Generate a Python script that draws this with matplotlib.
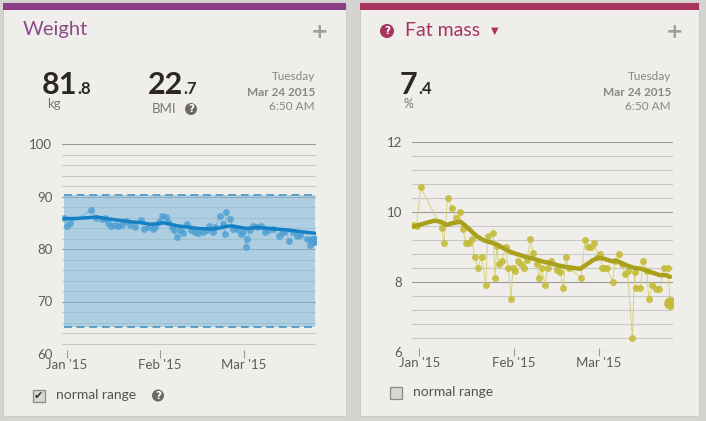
"""Withings-style dashboard cards: weight and fat mass over Jan-Mar 2015."""

import matplotlib

matplotlib.use("Agg")
import matplotlib.pyplot as plt
from matplotlib.patches import Rectangle, Circle

W, H = 706, 421

# chart chrome
OUTER = "#d6d4d0"
CARD = "#efeeeb"
PURPLE = "#8c3f86"
CRIMSON = "#a8335f"
INK = "#2a2724"
MUTED = "#8a8782"
TICK = "#5f5c58"
GRID_MAJOR = "#9d9b97"
GRID_MINOR = "#cbc9c5"
BLUE_DOT = "#4e9fd3"
BLUE_THIN = "#7cb7dc"
BLUE_TREND = "#1580c4"
BLUE_SHADE = "#80badb"
BLUE_DASH = "#5a9ec6"
OLIVE_DOT = "#c4bc3a"
OLIVE_THIN = "#d8d27c"
OLIVE_TREND = "#a9a11b"

# data: days since Jan 1 2015
TICK_DAYS = [0, 31, 59]
TICK_LABELS = ["Jan '15", "Feb '15", "Mar '15"]

WEIGHT_DAYS = [-0.8, 0.0, 1.1, 8.1, 9.8, 11.7, 12.8, 13.9, 14.7, 16.1, 17.2, 18.3,
               19.8, 21.1, 22.8, 24.7, 25.6, 27.2, 28.7, 29.4, 30.6, 31.7, 33.0,
               33.9, 35.0, 35.8, 36.7, 37.8, 38.9, 40.2, 41.3, 42.8, 43.9, 45.3,
               46.7, 47.5, 48.7, 49.4, 51.1, 52.0, 52.7, 53.1, 54.4, 55.5, 56.9,
               58.0, 58.9, 59.8, 60.2, 61.1, 62.2, 63.3, 64.7, 66.1, 67.2, 68.9,
               70.6, 71.7, 72.8, 74.2, 75.3, 76.7, 77.8, 80.0, 81.1, 81.7, 82.4, 82.8]
WEIGHT_KG = [86.0, 84.4, 85.0, 87.4, 86.0, 85.8, 86.0, 84.9, 84.3, 84.6, 84.3, 84.6,
             85.4, 84.6, 84.1, 85.5, 83.9, 84.2, 83.9, 84.1, 85.2, 86.3, 86.1,
             85.2, 84.1, 83.6, 82.2, 83.6, 83.0, 84.8, 83.6, 83.3, 83.0, 83.2,
             83.6, 84.3, 83.3, 84.1, 86.3, 84.8, 82.8, 87.0, 85.7, 83.9, 83.9,
             82.8, 83.3, 80.3, 82.0, 83.6, 84.3, 84.1, 84.3, 83.3, 83.6, 83.9,
             82.5, 83.0, 83.5, 81.6, 83.3, 82.5, 82.7, 82.0, 80.8, 82.0, 81.4, 81.8]
WEIGHT_TREND_DAYS = [-0.8, 3, 8, 10, 13, 17, 21, 25, 28, 30, 32, 34, 37, 40, 44, 48,
                     51, 53, 55, 58, 60, 63, 66, 70, 74, 78, 82.8]
WEIGHT_TREND_KG = [85.8, 85.8, 86.0, 86.1, 85.8, 85.5, 85.2, 85.0, 84.7, 84.8, 85.0,
                   84.8, 84.4, 84.2, 83.9, 83.8, 84.0, 84.3, 84.4, 84.1, 83.9, 84.1,
                   84.0, 83.8, 83.6, 83.3, 83.0]
NORMAL_RANGE = (65.1, 90.3)

FAT_DAYS = [-2.0, -0.9, 0.45, 7.4, 8.1, 9.3, 10.7, 12.0, 13.4, 14.3, 15.4, 16.3,
            17.2, 18.3, 19.2, 20.5, 21.9, 22.5, 24.3, 24.9, 25.5, 26.2, 27.1, 28.4,
            29.3, 30.2, 30.8, 31.5, 32.6, 33.5, 34.5, 35.5, 36.4, 37.5, 38.6, 39.4,
            40.2, 41.4, 42.2, 43.3, 45.2, 46.3, 47.4, 48.1, 49.2, 53.2, 54.5, 55.6,
            56.5, 57.6, 58.9, 59.6, 60.2, 60.9, 61.6, 63.6, 64.4, 65.7, 66.6, 67.7,
            68.5, 70.1, 70.8, 71.3, 72.7, 73.7, 74.8, 75.5, 76.7, 77.8, 78.9, 80.6,
            81.7, 82.5]
FAT_PCT = [9.63, 9.61, 10.70, 9.53, 9.11, 10.40, 10.10, 9.82, 10.00, 9.51, 9.11, 9.11,
           9.22, 8.72, 8.41, 8.72, 7.92, 9.30, 9.41, 8.13, 9.02, 8.51, 8.60, 9.01,
           8.41, 7.52, 8.39, 8.32, 8.60, 8.51, 8.41, 8.63, 9.22, 8.82, 8.51, 8.13,
           8.41, 7.92, 8.41, 8.60, 8.34, 8.30, 7.82, 8.72, 8.39, 8.13, 9.20, 9.01,
           9.01, 9.11, 8.72, 8.80, 8.41, 8.41, 8.41, 8.01, 8.60, 8.80, 8.51, 8.22,
           8.32, 6.42, 8.28, 7.82, 7.82, 8.60, 8.32, 7.52, 7.92, 7.80, 7.80, 8.41,
           8.41, 7.41]
FAT_TREND_DAYS = [-2, 2, 5, 7, 9, 11, 13.5, 15, 17, 19, 21.5, 24, 26, 28, 30, 32, 35,
                  37, 40, 43, 46, 49, 51, 53, 55, 57, 59, 61, 63, 65, 67, 69, 71, 73,
                  75, 77, 79, 81, 82.5]
FAT_TREND_PCT = [9.58, 9.68, 9.75, 9.72, 9.63, 9.68, 9.72, 9.62, 9.46, 9.30, 9.18,
                 9.12, 9.05, 8.95, 8.86, 8.80, 8.72, 8.68, 8.60, 8.54, 8.47, 8.42,
                 8.40, 8.38, 8.50, 8.62, 8.70, 8.66, 8.60, 8.60, 8.52, 8.45, 8.40,
                 8.38, 8.32, 8.26, 8.20, 8.20, 8.15]

plt.rcParams["font.family"] = ["Lato", "DejaVu Sans"]


def fx(x):
    return x / W


def fy(y):
    return 1 - y / H


def text(fig, x, y, s, **kw):
    kw.setdefault("va", "center")
    fig.text(fx(x), fy(y), s, **kw)


def help_icon(fig, x, y, color, r=6.5):
    fig.patches.append(Circle((x, H - y), r, transform=None, facecolor=color,
                              edgecolor="none"))
    fig.text(fx(x), fy(y + 0.3), "?", ha="center", va="center", color="white",
             fontsize=7.5, fontweight="bold", family="DejaVu Sans")


def checkbox(fig, x, y, checked):
    fig.patches.append(Rectangle((fx(x), fy(y + 11.5)), 11.5 / W, 11.5 / H,
                                 transform=fig.transFigure, facecolor="#d9d7d3",
                                 edgecolor="#8c8a86", linewidth=0.9))
    if checked:
        fig.text(fx(x + 5.8), fy(y + 6), "\u2714", ha="center", va="center",
                 color="#2f2d2a", fontsize=8, family="DejaVu Sans")


def card(fig, x0, x1, bar_color):
    fig.patches.append(Rectangle((fx(x0), fy(416)), (x1 - x0) / W, (416 - 3) / H,
                                 transform=fig.transFigure, facecolor=CARD,
                                 edgecolor="#c9c7c3", linewidth=0.6, zorder=-2))
    fig.patches.append(Rectangle((fx(x0), fy(9.5)), (x1 - x0) / W, 6 / H,
                                 transform=fig.transFigure, facecolor=bar_color,
                                 edgecolor="none", zorder=-1))


def style_axes(ax, major, minor, ylim, xlim):
    ax.set_facecolor("none")
    for side in ax.spines:
        ax.spines[side].set_visible(False)
    ax.set_xlim(*xlim)
    ax.set_ylim(*ylim)
    ax.set_yticks(major)
    ax.set_yticks(minor, minor=True)
    ax.yaxis.grid(True, which="major", color=GRID_MAJOR, linewidth=0.8)
    ax.yaxis.grid(True, which="minor", color=GRID_MINOR, linewidth=0.8)
    ax.set_axisbelow(True)
    ax.tick_params(axis="y", which="both", length=0, pad=7, labelsize=9.5,
                   labelcolor=TICK)
    ax.set_xticks(TICK_DAYS)
    ax.set_xticklabels(TICK_LABELS)
    ax.tick_params(axis="x", direction="inout", length=6, width=0.8, color=GRID_MAJOR,
                   pad=0.5, labelsize=9.5, labelcolor=TICK)


fig = plt.figure(figsize=(W / 100, H / 100), dpi=100)
fig.patch.set_facecolor(OUTER)
card(fig, 3, 346, PURPLE)
card(fig, 360, 699, CRIMSON)

# ---- weight card header
text(fig, 23, 30, "Weight", color="#8e4b8a", fontsize=14.5)
text(fig, 320, 32, "+", ha="center", color="#a19f9b", fontsize=15, fontweight="bold",
     family="DejaVu Sans")
text(fig, 42, 94, "81", va="baseline", color=INK, fontsize=22, fontweight="bold")
text(fig, 77, 94, ".8", va="baseline", color=INK, fontsize=12, fontweight="bold")
text(fig, 47, 104, "kg", color="#7a7772", fontsize=9.5)
text(fig, 148, 94, "22", va="baseline", color=INK, fontsize=22, fontweight="bold")
text(fig, 183.5, 94, ".7", va="baseline", color=INK, fontsize=12, fontweight="bold")
text(fig, 152, 109, "BMI", color="#7a7772", fontsize=9.5)
help_icon(fig, 191, 109, "#6c6964", r=6)
for x in (315, 671):
    text(fig, x, 77, "Tuesday", ha="right", color=MUTED, fontsize=8.5)
    text(fig, x, 92, "Mar 24 2015", ha="right", color=MUTED, fontsize=8.5,
         fontweight="bold")
    text(fig, x, 107, "6:50 AM", ha="right", color=MUTED, fontsize=8.5)

# ---- fat card header
help_icon(fig, 387, 31, CRIMSON, r=7)
text(fig, 405, 30, "Fat mass", color=CRIMSON, fontsize=14)
text(fig, 495, 31, "\u25bc", ha="center", color=CRIMSON, fontsize=7,
     family="DejaVu Sans")
text(fig, 675, 32, "+", ha="center", color="#a19f9b", fontsize=15, fontweight="bold",
     family="DejaVu Sans")
text(fig, 400, 94, "7", va="baseline", color=INK, fontsize=22, fontweight="bold")
text(fig, 418, 94, ".4", va="baseline", color=INK, fontsize=12, fontweight="bold")
text(fig, 403, 104.5, "%", color="#7a7772", fontsize=9)

# ---- weight chart
ax1 = fig.add_axes([fx(62), fy(354), (316 - 62) / W, (354 - 144) / H])
style_axes(ax1, [60, 70, 80, 90, 100], list(range(60, 101, 2)), (60, 100),
           ((62 - 66.7) / 3.0, (316 - 66.7) / 3.0))
lo, hi = NORMAL_RANGE
ax1.fill_between([WEIGHT_DAYS[0], WEIGHT_DAYS[-1]], lo, hi, color=BLUE_SHADE,
                 alpha=0.58, linewidth=0, zorder=1)
ax1.hlines([lo, hi], WEIGHT_DAYS[0], WEIGHT_DAYS[-1], colors=BLUE_DASH,
           linestyles=(0, (4, 2.5)), linewidth=1.4, zorder=2)
ax1.plot(WEIGHT_DAYS, WEIGHT_KG, color=BLUE_THIN, linewidth=0.7, zorder=3)
ax1.plot(WEIGHT_DAYS, WEIGHT_KG, "o", color=BLUE_DOT, alpha=0.8, markersize=5,
         markeredgewidth=0, zorder=4)
ax1.plot(WEIGHT_DAYS[-1:], WEIGHT_KG[-1:], "o", color=BLUE_DOT, alpha=0.9,
         markersize=7, markeredgewidth=0, zorder=4)
ax1.plot(WEIGHT_TREND_DAYS, WEIGHT_TREND_KG, color=BLUE_TREND, linewidth=2.5,
         solid_capstyle="round", zorder=5)

# ---- fat mass chart
ax2 = fig.add_axes([fx(411.7), fy(352.3), (672.7 - 411.7) / W, (352.3 - 141.7) / H])
style_axes(ax2, [6, 8, 10, 12], [6 + 0.4 * i for i in range(16)], (6, 12),
           ((411.7 - 419.3) / 3.04, (672.7 - 419.3) / 3.04))
ax2.set_yticklabels(["6", "8", "10", "12"])
ax2.plot(FAT_DAYS, FAT_PCT, color=OLIVE_THIN, linewidth=0.7, zorder=3)
ax2.plot(FAT_DAYS[:-1], FAT_PCT[:-1], "o", color=OLIVE_DOT, alpha=0.9, markersize=5,
         markeredgewidth=0, zorder=4)
ax2.plot(FAT_DAYS[-1:], FAT_PCT[-1:], "o", color=OLIVE_DOT, markersize=9,
         markeredgewidth=0, zorder=4)
ax2.plot(FAT_TREND_DAYS, FAT_TREND_PCT, color=OLIVE_TREND, linewidth=3.2,
         solid_capstyle="round", zorder=5)

# ---- footers
checkbox(fig, 33, 390, checked=True)
text(fig, 56, 395, "normal range", color="#55524e", fontsize=10)
help_icon(fig, 158, 395.5, "#6c6964", r=6)
checkbox(fig, 390, 387, checked=False)
text(fig, 413, 392.5, "normal range", color="#55524e", fontsize=10)

fig.savefig("out.png", dpi=100, facecolor=OUTER)
